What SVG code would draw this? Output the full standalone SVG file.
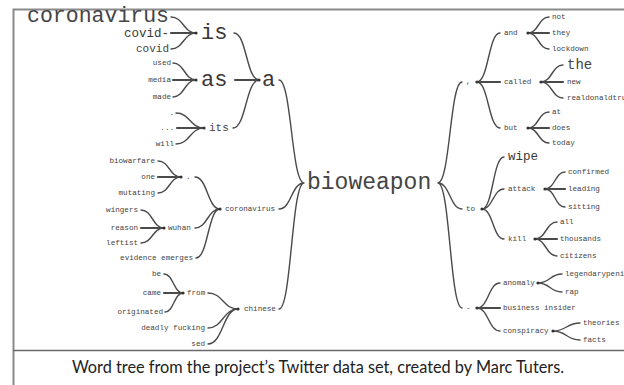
<svg xmlns="http://www.w3.org/2000/svg" width="624" height="385" viewBox="0 0 624 385">
<style>
.w{font-family:"Liberation Mono","DejaVu Sans Mono",monospace;fill:#444;dominant-baseline:middle}
.s{font-size:7.6px}
.m{font-size:12.5px;fill:#3a3a3a}
.b{font-size:22px;fill:#3d3636}
.e{text-anchor:end}
.c{fill:none;stroke:#4a4a4a;stroke-width:1.4;stroke-linecap:round}
.t{stroke-width:2.2}
.d{fill:#333}
.frame{stroke:#8a8a8a;stroke-width:2;fill:none}
.cap{font-family:Lato,"Open Sans",sans-serif;font-size:16.3px;fill:#222;text-anchor:middle}
</style>
<rect width="624" height="385" fill="#fff"/>
<path class="frame" d="M13.5 385V9.5H624"/>
<path d="M13 350.5H624" stroke="#6a6a6a" stroke-width="1.6"/>
<g id="connectors">
<path class="c" d="M279 80C291.5 80 291.5 183 304 183M279 209C291.5 209 291.5 183 304 183M279 309C291.5 309 291.5 183 304 183"/>
<path class="c" d="M234 33C246.5 33 246.5 80 259 80M233 128C246 128 246 80 259 80"/>
<path class="c t" d="M235 80H259"/>
<path class="c" d="M171 17C183.5 17 183.5 33 196 33M171 49C183.5 49 183.5 33 196 33"/>
<path class="c t" d="M171 33H196"/>
<path class="c" d="M173 63C184.5 63 184.5 80 196 80M173 97C184.5 97 184.5 80 196 80"/>
<path class="c t" d="M173 80H196"/>
<path class="c" d="M176 113C190 113 190 128 204 128M176 144C190 144 190 128 204 128"/>
<path class="c t" d="M177 128H204"/>
<path class="c" d="M195 177C207.5 177 207.5 209 220 209M195 228C207.5 228 207.5 209 220 209M196 258C208 258 208 209 220 209"/>
<path class="c" d="M158 161C169.5 161 169.5 177 181 177M158 193C169.5 193 169.5 177 181 177"/>
<path class="c t" d="M158 177H181"/>
<path class="c" d="M141 210C152.5 210 152.5 228 164 228M141 243C152.5 243 152.5 228 164 228"/>
<path class="c t" d="M141 228H164"/>
<path class="c" d="M208 293C223 293 223 309 238 309M208 328C223 328 223 309 238 309M208 344C223 344 223 309 238 309"/>
<path class="c" d="M164 274C173.5 274 173.5 293 183 293M165 312C174 312 174 293 183 293"/>
<path class="c t" d="M164 293H183"/>
<path class="c" d="M438 183C450 183 450 82 462 82M438 183C450 183 450 209 462 209M438 183C450 183 450 308 462 308"/>
<path class="c" d="M477 82C488.5 82 488.5 33 500 33M477 82C488.5 82 488.5 128 500 128"/>
<path class="c t" d="M477 82H500"/>
<path class="c" d="M528 33C538.5 33 538.5 17 549 17M528 33C538.5 33 538.5 49 549 49"/>
<path class="c t" d="M528 33H549"/>
<path class="c" d="M541 82C552 82 552 65 563 65M541 82C552 82 552 98 563 98"/>
<path class="c t" d="M541 82H563"/>
<path class="c" d="M528 128C538.5 128 538.5 112 549 112M528 128C538.5 128 538.5 143 549 143"/>
<path class="c t" d="M528 128H549"/>
<path class="c" d="M482 209C493 209 493 157 504 157M482 209C493 209 493 189 504 189M482 209C493 209 493 239 504 239"/>
<path class="c" d="M545 189C555 189 555 172 565 172M545 189C555 189 555 207 565 207"/>
<path class="c t" d="M545 189H565"/>
<path class="c" d="M535 239C546 239 546 222 557 222M535 239C546 239 546 256 557 256"/>
<path class="c t" d="M535 239H557"/>
<path class="c" d="M477 308C488.5 308 488.5 283 500 283M477 308C488.5 308 488.5 331 500 331"/>
<path class="c t" d="M477 308H500"/>
<path class="c" d="M538 283C550 283 550 274 562 274M538 283C550 283 550 292 562 292"/>
<path class="c" d="M553 331C566.5 331 566.5 323 580 323M553 331C566.5 331 566.5 340 580 340"/>
<g class="d">
<circle cx="196" cy="33" r="1.6"/><circle cx="196" cy="80" r="1.6"/><circle cx="204" cy="128" r="1.6"/><circle cx="259" cy="80" r="1.6"/>
<circle cx="181" cy="177" r="1.6"/><circle cx="164" cy="228" r="1.6"/><circle cx="220" cy="209" r="1.6"/><circle cx="183" cy="293" r="1.6"/><circle cx="238" cy="309" r="1.6"/>
<circle cx="477" cy="82" r="1.6"/><circle cx="528" cy="33" r="1.6"/><circle cx="541" cy="82" r="1.6"/><circle cx="528" cy="128" r="1.6"/>
<circle cx="482" cy="209" r="1.6"/><circle cx="545" cy="189" r="1.6"/><circle cx="535" cy="239" r="1.6"/>
<circle cx="477" cy="308" r="1.6"/><circle cx="538" cy="283" r="1.6"/><circle cx="553" cy="331" r="1.6"/>
</g>
</g>
<g id="n-bioweapon"><text class="w" x="307" y="183" font-size="23" fill="#3d3636">bioweapon</text></g>
<g id="n-a"><text class="w b" x="262" y="80">a</text></g>
<g id="n-is"><text class="w b" x="201" y="33">is</text></g>
<g id="n-coronavirus1"><text class="w e" x="169" y="16.5" font-size="21.5" fill="#3d3636">coronavirus</text></g>
<g id="n-covid-"><text class="w e m" x="169" y="33.5">covid-</text></g>
<g id="n-covid"><text class="w e" x="169" y="49" font-size="11" fill="#3a3a3a">covid</text></g>
<g id="n-as"><text class="w b" x="201" y="80">as</text></g>
<g id="n-used"><text class="w s e" x="171" y="63">used</text></g>
<g id="n-media"><text class="w s e" x="171" y="80">media</text></g>
<g id="n-made"><text class="w s e" x="171" y="97">made</text></g>
<g id="n-its"><text class="w" x="209" y="128" font-size="11" fill="#3a3a3a">its</text></g>
<g id="n-dot1"><text class="w s e" x="174" y="113">.</text></g>
<g id="n-ellipsis"><text class="w s e" x="174" y="128">...</text></g>
<g id="n-will"><text class="w s e" x="174" y="144">will</text></g>
<g id="n-coronavirus2"><text class="w s" x="225" y="209">coronavirus</text></g>
<g id="n-dot2"><text class="w s" x="186" y="177">.</text></g>
<g id="n-biowarfare"><text class="w s e" x="155" y="161">biowarfare</text></g>
<g id="n-one"><text class="w s e" x="155" y="177">one</text></g>
<g id="n-mutating"><text class="w s e" x="155" y="193">mutating</text></g>
<g id="n-wuhan"><text class="w s" x="168" y="228">wuhan</text></g>
<g id="n-wingers"><text class="w s e" x="138" y="210">wingers</text></g>
<g id="n-reason"><text class="w s e" x="138" y="228">reason</text></g>
<g id="n-leftist"><text class="w s e" x="138" y="243">leftist</text></g>
<g id="n-evidence"><text class="w s e" x="193" y="258">evidence emerges</text></g>
<g id="n-chinese"><text class="w s" x="244" y="309">chinese</text></g>
<g id="n-from"><text class="w s" x="187" y="293">from</text></g>
<g id="n-be"><text class="w s e" x="161" y="274">be</text></g>
<g id="n-came"><text class="w s e" x="161" y="293">came</text></g>
<g id="n-originated"><text class="w s e" x="163" y="312">originated</text></g>
<g id="n-deadly"><text class="w s e" x="205" y="328">deadly fucking</text></g>
<g id="n-sed"><text class="w s e" x="205" y="344">sed</text></g>
<g id="n-comma"><text class="w s" x="466" y="82">,</text></g>
<g id="n-and"><text class="w s" x="504" y="33">and</text></g>
<g id="n-not"><text class="w s" x="552" y="17">not</text></g>
<g id="n-they"><text class="w s" x="552" y="33">they</text></g>
<g id="n-lockdown"><text class="w s" x="552" y="49">lockdown</text></g>
<g id="n-called"><text class="w s" x="504" y="82">called</text></g>
<g id="n-the"><text class="w" x="567" y="65" font-size="14" fill="#3a3a3a">the</text></g>
<g id="n-new"><text class="w s" x="567" y="82">new</text></g>
<g id="n-realdonaldtrump"><text class="w s" x="567" y="98">realdonaldtrump</text></g>
<g id="n-but"><text class="w s" x="504" y="128">but</text></g>
<g id="n-at"><text class="w s" x="552" y="112">at</text></g>
<g id="n-does"><text class="w s" x="552" y="128">does</text></g>
<g id="n-today"><text class="w s" x="552" y="143">today</text></g>
<g id="n-to"><text class="w s" x="466" y="209">to</text></g>
<g id="n-wipe"><text class="w m" x="508" y="157">wipe</text></g>
<g id="n-attack"><text class="w s" x="508" y="189">attack</text></g>
<g id="n-confirmed"><text class="w s" x="568" y="172">confirmed</text></g>
<g id="n-leading"><text class="w s" x="568" y="189">leading</text></g>
<g id="n-sitting"><text class="w s" x="568" y="207">sitting</text></g>
<g id="n-kill"><text class="w s" x="508" y="239">kill</text></g>
<g id="n-all"><text class="w s" x="560" y="222">all</text></g>
<g id="n-thousands"><text class="w s" x="560" y="239">thousands</text></g>
<g id="n-citizens"><text class="w s" x="560" y="256">citizens</text></g>
<g id="n-dash"><text class="w s" x="466" y="308">-</text></g>
<g id="n-anomaly"><text class="w s" x="503" y="283">anomaly</text></g>
<g id="n-legendary"><text class="w s" x="565" y="274">legendarypenis</text></g>
<g id="n-rap"><text class="w s" x="565" y="292">rap</text></g>
<g id="n-business"><text class="w s" x="503" y="308">business insider</text></g>
<g id="n-conspiracy"><text class="w s" x="503" y="331">conspiracy</text></g>
<g id="n-theories"><text class="w s" x="583" y="323">theories</text></g>
<g id="n-facts"><text class="w s" x="583" y="340">facts</text></g>
<g id="caption"><text class="cap" x="318" y="373">Word tree from the project’s Twitter data set, created by Marc Tuters.</text></g>
</svg>
